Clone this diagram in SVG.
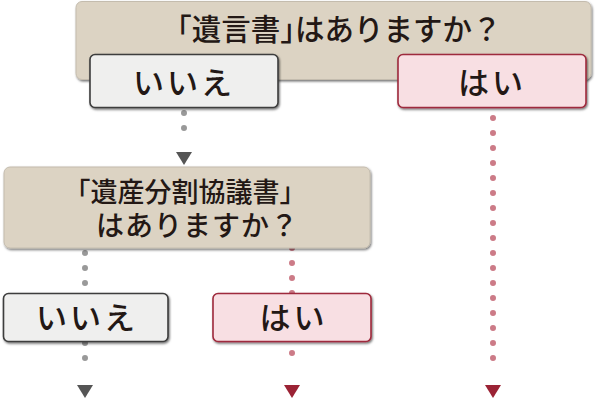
<svg xmlns="http://www.w3.org/2000/svg" width="601" height="402" viewBox="0 0 601 402">
<defs>
<filter id="sh" x="-5%" y="-10%" width="115%" height="130%">
<feDropShadow dx="1" dy="1.5" stdDeviation="0.8" flood-color="#000" flood-opacity="0.55"/>
</filter>
</defs>
<style>
.q{fill:#dcd3c3;stroke:#c4bcae;stroke-width:1;filter:url(#sh)}
.no{fill:#efefee;stroke:#3c3c3c;stroke-width:1.6;filter:url(#sh)}
.yes{fill:#f8dfe3;stroke:#9e2a3c;stroke-width:1.6;filter:url(#sh)}
text{font-family:"Noto Sans CJK JP","Noto Sans",sans-serif;fill:#231815;font-weight:500}
.t1{font-size:29.5px}
.h{font-feature-settings:"halt"}
.t2{font-size:27px}
.t3{font-size:28px;letter-spacing:1px}
.lb{font-size:31px;letter-spacing:3px;text-anchor:middle}
.dg{stroke:#999999;stroke-width:6;stroke-linecap:round;stroke-dasharray:0 15;fill:none}
.dr{stroke:#cc7b87;stroke-width:6;stroke-linecap:round;stroke-dasharray:0 15;fill:none}
.ag{fill:#555555}
.ar{fill:#9b2335}
</style>
<rect width="601" height="402" fill="#ffffff"/>
<g id="connectors">
<line class="dg" x1="184" y1="113" x2="184" y2="143"/>
<path class="ag" d="M176,152 L192,152 L184,165 Z"/>
<line class="dr" x1="493" y1="118" x2="493" y2="373"/>
<path class="ar" d="M485,385 L501,385 L493,398 Z"/>
<line class="dg" x1="85" y1="253" x2="85" y2="373"/>
<path class="ag" d="M77,385 L93,385 L85,398 Z"/>
<line class="dr" x1="292" y1="248" x2="292" y2="368"/>
<path class="ar" d="M284,385 L300,385 L292,398 Z"/>
</g>
<g id="q1">
<rect class="q" x="76" y="1.5" width="515" height="78" rx="6"/>
<text class="t1" x="177" y="40"><tspan class="h">「</tspan>遺言書<tspan class="h">」</tspan>はありますか？</text>
</g>
<g id="no1">
<rect class="no" x="90" y="54.5" width="188" height="53" rx="5"/>
<text class="lb" x="184" y="93.5">いいえ</text>
</g>
<g id="yes1">
<rect class="yes" x="398" y="54.5" width="188" height="53" rx="5"/>
<text class="lb" x="492" y="93.5">はい</text>
</g>
<g id="q2">
<rect class="q" x="4" y="167" width="366" height="81" rx="6"/>
<text><tspan class="t2" x="185" y="202" text-anchor="middle">「遺産分割協議書」</tspan><tspan class="t3" x="96" y="235.5">はありますか？</tspan></text>
</g>
<g id="no2">
<rect class="no" x="3.5" y="293.5" width="164.5" height="48" rx="5"/>
<text class="lb" x="87" y="328.5">いいえ</text>
</g>
<g id="yes2">
<rect class="yes" x="213" y="293.5" width="158" height="48" rx="5"/>
<text class="lb" x="293.5" y="328.5">はい</text>
</g>
</svg>
